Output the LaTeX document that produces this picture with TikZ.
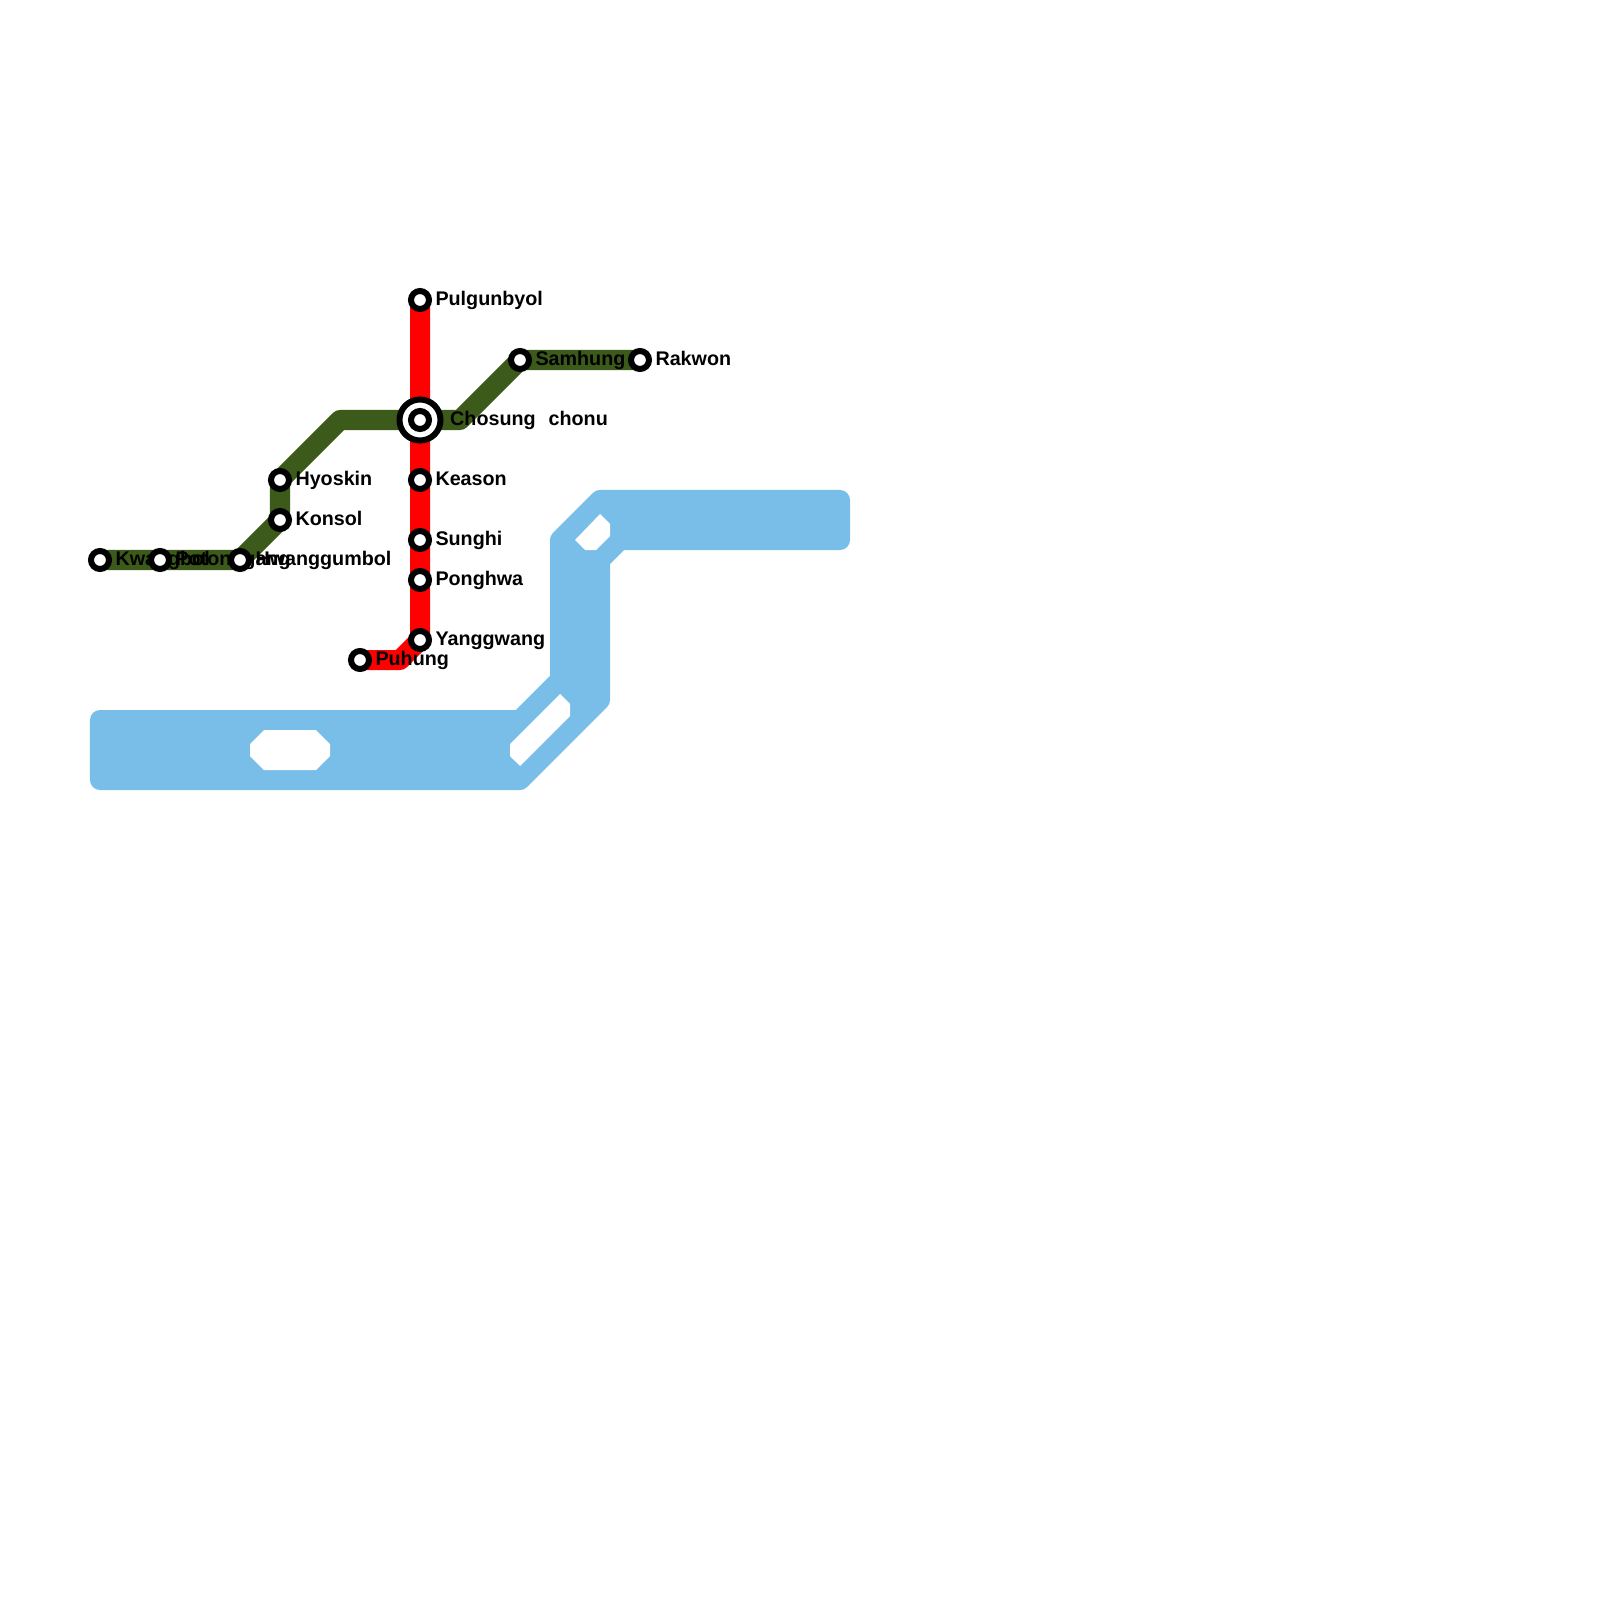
\documentclass[tikz,border=0pt]{standalone}
\usepackage{fontspec}
\setmainfont{Liberation Sans}
\usetikzlibrary{positioning,backgrounds}
\definecolor{waterblue}{RGB}{121,189,233}
\definecolor{linegreen}{RGB}{60,90,26}
\definecolor{linered}{RGB}{255,0,0}

\begin{document}
\begin{tikzpicture}[
  x=0.01cm, y=-0.01cm,
  font=\bfseries\fontsize{5.61pt}{7pt}\selectfont,
  stn/.style={circle, draw=black, line width=0.06cm, fill=white, minimum size=0.18cm, inner sep=0pt},
  xstn/.style={circle, draw=black, line width=0.06cm, fill=white, minimum size=0.41cm, inner sep=0pt},
  lbl/.style={inner sep=0pt, text height=1em, text depth=0.25em},
  track/.style={line width=0.2cm, line join=round},
  water/.style={draw=waterblue, fill=waterblue, line width=0.2cm, line join=round},
  hole/.style={fill=white}
]
  \useasboundingbox (0,0) rectangle (1600,1600);

  % stations
  \foreach \n/\x/\y in {
    kwa/100/560, pot/160/560, hwa/240/560, kon/280/520, hyo/280/480,
    pul/420/300, kea/420/480, sun/420/540, pon/420/580, yan/420/640,
    puh/360/660, sam/520/360, rak/640/360
  }{
    \node[stn] (\n) at (\x,\y) {};
  }
  \node[xstn] (chox) at (420,420) {};
  \node[stn] (cho) at (420,420) {};

  % bends
  \coordinate (g1) at (340,420);
  \coordinate (g2) at (460,420);
  \coordinate (r1) at (400,660);

  \begin{scope}[on background layer]
    % water
    \draw[water] (100,720) -- (520,720) -- (560,680) -- (560,540) -- (600,500) -- (840,500)
      -- (840,540) -- (620,540) -- (600,560) -- (600,700) -- (520,780) -- (100,780) -- cycle;
    \fill[hole] (250,744) -- (264,730) -- (316,730) -- (330,744) -- (330,756) -- (316,770)
      -- (264,770) -- (250,756) -- cycle;
    \fill[hole] (560,694) -- (570,704) -- (570,716) -- (520,766) -- (510,756) -- (510,744) -- cycle;
    \fill[hole] (600,514) -- (610,524) -- (610,536) -- (596,550) -- (585,550) -- (575,540) -- cycle;
    % lines
    \draw[track, linered] (pul.center) -- (yan.center) -- (r1) -- (puh.center);
    \draw[track, linegreen] (kwa.center) -- (pot.center) -- (hwa.center) -- (kon.center)
      -- (hyo.center) -- (g1) -- (cho.center) -- (g2) -- (sam.center) -- (rak.center);
    % names
    \foreach \n/\t in {
      kwa/Kwangbol, pot/Potonggang, hwa/Hwanggumbol, kon/Konsol, hyo/Hyoskin,
      pul/Pulgunbyol, kea/Keason, sun/Sunghi, pon/Ponghwa, yan/Yanggwang,
      puh/Puhung, sam/Samhung, rak/Rakwon
    }{
      \node[lbl, right=0.028cm of \n, yshift=0.074cm] (\n-l) {\t};
    }
    \node[lbl, right=0.06cm of chox, yshift=0.074cm] (cho-l) {Chosung\ \ \hspace{0.02cm}chonu};
  \end{scope}
\end{tikzpicture}
\end{document}
